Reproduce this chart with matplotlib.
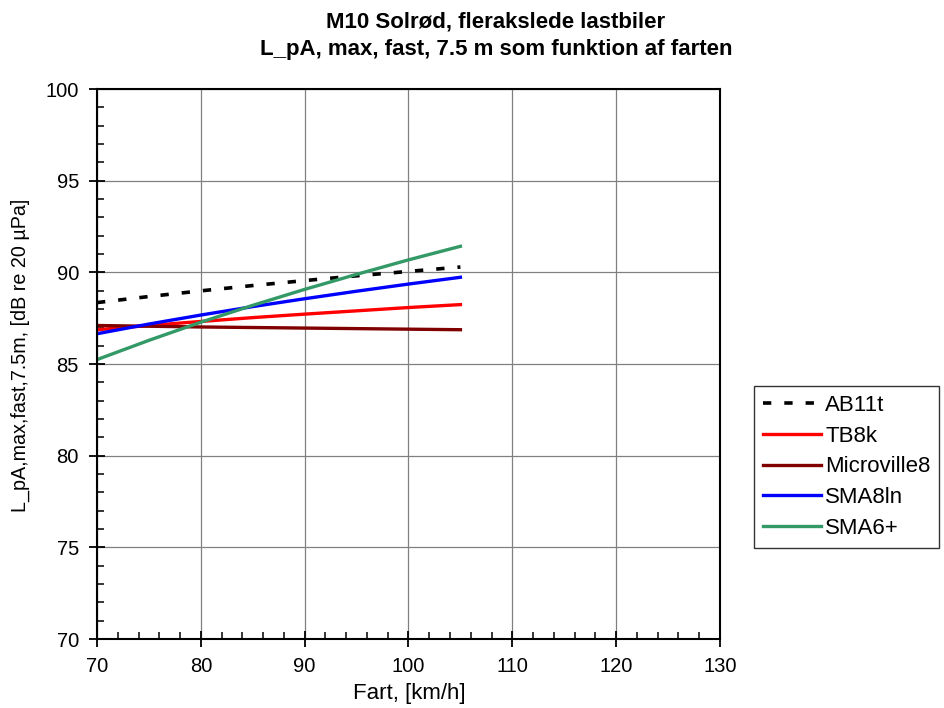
import matplotlib
matplotlib.use("Agg")
import matplotlib.pyplot as plt
from matplotlib.ticker import MultipleLocator

plt.rcParams['font.family'] = ['Liberation Sans', 'DejaVu Sans']

speed = [70, 75, 80, 85, 90, 95, 100, 105]
series_names = ["AB11t", "TB8k", "Microville8", "SMA8ln", "SMA6+"]
ab11t = [88.35, 88.68, 88.99, 89.28, 89.55, 89.81, 90.05, 90.29]
tb8k = [86.87, 87.10, 87.32, 87.53, 87.72, 87.90, 88.08, 88.24]
microville8 = [87.10, 87.06, 87.02, 86.99, 86.96, 86.93, 86.90, 86.87]
sma8ln = [86.65, 87.18, 87.67, 88.13, 88.56, 88.97, 89.36, 89.73]
sma6 = [85.24, 86.29, 87.28, 88.20, 89.07, 89.89, 90.68, 91.42]

colors = ["black", "#ff0000", "#800000", "#0000ff", "#339966"]
values = [ab11t, tb8k, microville8, sma8ln, sma6]

fig = plt.figure(figsize=(9.44, 7.08), dpi=100)
ax = fig.add_axes([97/944, 1-639/708, (720-97)/944, (639-89)/708])

for name, vals, c in zip(series_names, values, colors):
    if name == "AB11t":
        ax.plot(speed, vals, color=c, lw=2.6, linestyle=(0, (2.3, 3.6)), label=name)
    else:
        ax.plot(speed, vals, color=c, lw=2.4, label=name)

ax.set_xlim(70, 130)
ax.set_ylim(70, 100)
ax.xaxis.set_major_locator(MultipleLocator(10))
ax.xaxis.set_minor_locator(MultipleLocator(2))
ax.yaxis.set_major_locator(MultipleLocator(5))
ax.yaxis.set_minor_locator(MultipleLocator(1))
ax.grid(True, which='major', color='#808080', lw=0.9)
ax.set_axisbelow(True)
ax.tick_params(which='major', direction='inout', length=12, width=1.3, labelsize=14.5)
ax.tick_params(axis='x', which='major', pad=7)
ax.tick_params(axis='y', which='major', pad=7)
ax.tick_params(which='minor', direction='in', length=5, width=1.1)
for s in ax.spines.values():
    s.set_linewidth(1.5)
    s.set_color('black')

fig.text(409/944, 1-694/708, "Fart, [km/h]", ha='center', va='center', fontsize=16)
fig.text(20/944, 1-355/708, "L_pA,max,fast,7.5m, [dB re 20 µPa]", ha='center', va='center',
         rotation=90, fontsize=14.2)

fig.text(496/944, 1-22/708, "M10 Solrød, flerakslede lastbiler", ha='center', va='center',
         fontsize=16, fontweight='bold')
fig.text(496/944, 1-49/708, "L_pA, max, fast, 7.5 m som funktion af farten", ha='center', va='center',
         fontsize=16, fontweight='bold')

leg = fig.legend(loc='upper left', bbox_to_anchor=(754/944, 1-386/708), fontsize=16,
                 handlelength=2.6, handletextpad=0.2, borderpad=0.4, labelspacing=0.44,
                 fancybox=False, frameon=True, borderaxespad=0)
leg.get_frame().set_edgecolor('black')
leg.get_frame().set_linewidth(1.0)

fig.savefig("out.png", dpi=100)
